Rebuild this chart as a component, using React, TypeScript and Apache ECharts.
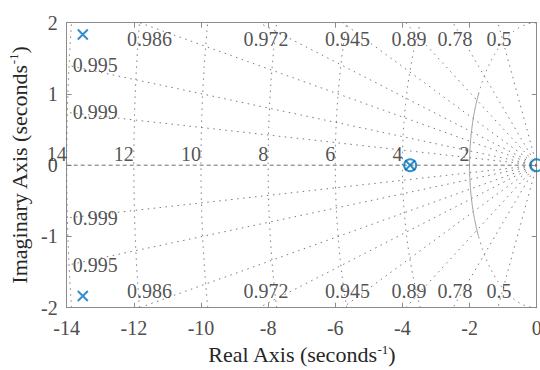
import React, { useEffect, useRef } from "react";
import * as echarts from "echarts";

// ---- data ----
const dampingValues = [0.5, 0.78, 0.89, 0.945, 0.972, 0.986, 0.995, 0.9986];
const dampingLabels = ["0.5", "0.78", "0.89", "0.945", "0.972", "0.986", "0.995", "0.999"];
const naturalFreqs = [2, 4, 6, 8, 10, 12, 14];
const naturalFreqLabels = ["2", "4", "6", "8", "10", "12", "14"];
const poleRe = [-13.52, -13.52, -3.77];
const poleIm = [1.835, -1.835, 0];
const zeroRe = [-3.77, 0];
const zeroIm = [0, 0];
const xMin = -14;
const xMax = 0;
const yMin = -2;
const yMax = 2;
const xInterval = 2;
const yInterval = 1;

const FONT = "'Liberation Serif', 'Times New Roman', serif";
const BLUE = "#0072BD";
const GRID_GRAY = "#7a7a7a";
const LABEL_DARK = "#262626";
const TICK_GRAY = "#4d4d4d";
const BOX_GRAY = "#8c8c8c";
const DOT: number[] = [1.5, 4.5];

function slopeOf(z: number) {
  return Math.sqrt(1 - z * z) / z;
}

function rayEnd(z: number, sign: number): [number, number] {
  const s = slopeOf(z);
  if (s * -xMin <= yMax) return [xMin, sign * s * -xMin];
  return [-yMax / s, sign * yMax];
}

function arcPoints(r: number, y0: number, y1: number) {
  const pts: number[][] = [];
  const n = 160;
  for (let i = 0; i <= n; i++) {
    const y = y0 + ((y1 - y0) * i) / n;
    const x = -Math.sqrt(Math.max(0, r * r - y * y));
    pts.push([x, y]);
  }
  return pts;
}

function lineSeries(data: number[][], lineStyle: any) {
  return {
    type: "line",
    data,
    showSymbol: false,
    silent: true,
    z: 1,
    lineStyle,
  };
}

function buildOption() {
  const series: any[] = [];

  // damping rays
  dampingValues.forEach((z) => {
    [1, -1].forEach((sg) => {
      series.push(lineSeries([[0, 0], rayEnd(z, sg)], { color: GRID_GRAY, width: 1, type: DOT }));
    });
  });

  // natural frequency circles
  naturalFreqs.forEach((r) => {
    const lim = Math.min(r, yMax);
    if (r === 2) {
      // near the real axis the small circle reads as a continuous line
      series.push(lineSeries(arcPoints(r, -1, 1), { color: "#9a9a9a", width: 1, type: "solid" }));
      series.push(lineSeries(arcPoints(r, 1, lim), { color: GRID_GRAY, width: 1, type: DOT }));
      series.push(lineSeries(arcPoints(r, -lim, -1), { color: GRID_GRAY, width: 1, type: DOT }));
    } else {
      series.push(lineSeries(arcPoints(r, -lim, lim), { color: GRID_GRAY, width: 1, type: DOT }));
    }
  });

  // real axis (zeta = 1)
  series.push(lineSeries([[xMin, 0], [xMax, 0]], { color: "#6e6e6e", width: 1, type: [4, 3] }));

  const baseLabel = {
    show: true,
    fontFamily: FONT,
    fontSize: 20,
    color: LABEL_DARK,
    position: "inside",
  };

  // labels
  const labelData: any[] = [];
  dampingValues.forEach((z, i) => {
    [1, -1].forEach((sg) => {
      const [ex, ey] = rayEnd(z, sg);
      if (ex > xMin) {
        labelData.push({
          value: [ex * 0.975, ey],
          label: {
            ...baseLabel,
            formatter: dampingLabels[i],
            align: "center",
            verticalAlign: "middle",
            offset: [0, sg > 0 ? 16 : -17],
          },
        });
      } else {
        labelData.push({
          value: [ex, ey],
          label: {
            ...baseLabel,
            formatter: dampingLabels[i],
            align: "left",
            verticalAlign: "middle",
            offset: [6, 0],
          },
        });
      }
    });
  });
  naturalFreqs.forEach((r, i) => {
    labelData.push({
      value: [-r, 0],
      label: {
        ...baseLabel,
        formatter: naturalFreqLabels[i],
        align: "right",
        verticalAlign: "bottom",
        offset: [0, -1],
      },
    });
  });
  series.push({
    type: "scatter",
    data: labelData,
    symbolSize: 1,
    itemStyle: { color: "rgba(0,0,0,0)" },
    silent: true,
    clip: false,
    z: 3,
    label: baseLabel,
  });

  // zeros
  series.push({
    type: "scatter",
    data: zeroRe.map((x, i) => [x, zeroIm[i]]),
    symbol: "circle",
    symbolSize: 12,
    clip: false,
    silent: true,
    z: 5,
    itemStyle: { color: "rgba(0,0,0,0)", borderColor: BLUE, borderWidth: 2 },
  });
  // poles
  series.push({
    type: "scatter",
    data: poleRe.map((x, i) => [x, poleIm[i]]),
    symbol: "path://M0,0L10,10M10,0L0,10",
    symbolSize: 10,
    clip: false,
    silent: true,
    z: 6,
    itemStyle: { color: "rgba(0,0,0,0)", borderColor: BLUE, borderWidth: 2 },
  });

  const commonAxis = {
    type: "value",
    axisLine: { show: true, onZero: false, lineStyle: { color: BOX_GRAY, width: 1 } },
    axisTick: { show: true, inside: true, length: 5, lineStyle: { color: BOX_GRAY } },
    splitLine: { show: false },
  };

  const richName = {
    n: { fontFamily: FONT, fontSize: 22, color: "#262626", lineHeight: 24 },
    s: { fontFamily: FONT, fontSize: 13, color: "#262626", verticalAlign: "top", lineHeight: 14 },
  };

  return {
    animation: false,
    backgroundColor: "#ffffff",
    grid: {
      left: 66.7,
      right: 3.3,
      top: 22.7,
      bottom: 62.3,
      containLabel: false,
      outerBoundsMode: "none",
    },
    xAxis: [
      {
        ...commonAxis,
        position: "bottom",
        min: xMin,
        max: xMax,
        interval: xInterval,
        axisLabel: { show: true, fontFamily: FONT, fontSize: 20, color: TICK_GRAY, margin: 10 },
        name: "{n|Real Axis (seconds}{s|-1}{n|)}",
        nameLocation: "middle",
        nameGap: 34,
        nameTextStyle: { color: "#262626", rich: richName },
      },
      {
        ...commonAxis,
        position: "top",
        min: xMin,
        max: xMax,
        interval: xInterval,
        axisLabel: { show: false },
      },
    ],
    yAxis: [
      {
        ...commonAxis,
        position: "left",
        min: yMin,
        max: yMax,
        interval: yInterval,
        axisLabel: { show: true, fontFamily: FONT, fontSize: 20, color: TICK_GRAY, margin: 9 },
        name: "{n|Imaginary Axis (seconds}{s|-1}{n|)}",
        nameLocation: "middle",
        nameRotate: 90,
        nameGap: 33,
        nameTextStyle: { color: "#262626", rich: richName },
      },
      {
        ...commonAxis,
        position: "right",
        min: yMin,
        max: yMax,
        interval: yInterval,
        axisLabel: { show: false },
      },
    ],
    series,
  };
}

export default function App() {
  const ref = useRef<HTMLDivElement>(null);
  useEffect(() => {
    if (!ref.current) return;
    const chart = echarts.init(ref.current, undefined, { renderer: "svg" });
    chart.setOption(buildOption() as any);
    return () => {
      chart.dispose();
    };
  }, []);
  return (
    <div
      ref={ref}
      style={{ position: "fixed", left: 0, top: 0, width: 540, height: 370, background: "#fff" }}
    />
  );
}
